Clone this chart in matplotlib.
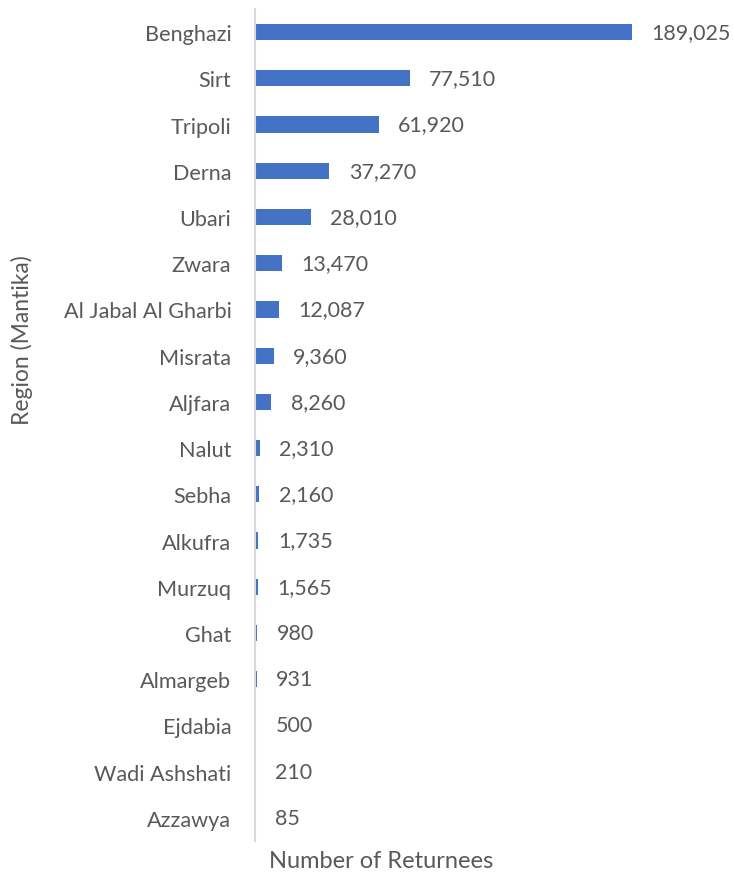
import matplotlib
matplotlib.use("Agg")
import matplotlib.pyplot as plt

regions = ["Benghazi", "Sirt", "Tripoli", "Derna", "Ubari", "Zwara",
           "Al Jabal Al Gharbi", "Misrata", "Aljfara", "Nalut", "Sebha",
           "Alkufra", "Murzuq", "Ghat", "Almargeb", "Ejdabia",
           "Wadi Ashshati", "Azzawya"]
returnees = [189025, 77510, 61920, 37270, 28010, 13470, 12087, 9360, 8260,
             2310, 2160, 1735, 1565, 980, 931, 500, 210, 85]

bar_color = "#4472C4"
text_color = "#595959"
font = "Lato"

fig = plt.figure(figsize=(7.33, 8.78), dpi=100)
ax = fig.add_axes([255 / 733, 36 / 878, 399 / 733, 832 / 878])

ypos = list(range(len(regions)))
ax.barh(ypos, returnees, height=0.35, color=bar_color)
ax.set_ylim(len(regions) - 0.5, -0.5)
ax.set_xlim(0, 200000)

for y, v in zip(ypos, returnees):
    ax.annotate(f"{v:,}", xy=(v, y), xytext=(14, 0), textcoords="offset points",
                va="center", ha="left", fontsize=15.5, color=text_color,
                family=font, annotation_clip=False)

ax.set_yticks(ypos)
ax.set_yticklabels(regions, fontsize=15.6, color=text_color, family=font)
ax.tick_params(axis="y", length=0, pad=17)
ax.set_xticks([])

for side in ["top", "right", "bottom"]:
    ax.spines[side].set_visible(False)
ax.spines["left"].set_color("#D9D9D9")
ax.spines["left"].set_linewidth(1.5)

fig.text(22 / 733, 1 - 340 / 878, "Region (Mantika)", rotation=90,
         ha="center", va="center", fontsize=16.5, color=text_color,
         family=font)
fig.text(381 / 733, 1 - 862 / 878, "Number of Returnees", ha="center",
         va="center", fontsize=17, color=text_color, family=font)

fig.savefig("out.png", dpi=100, facecolor="white")
